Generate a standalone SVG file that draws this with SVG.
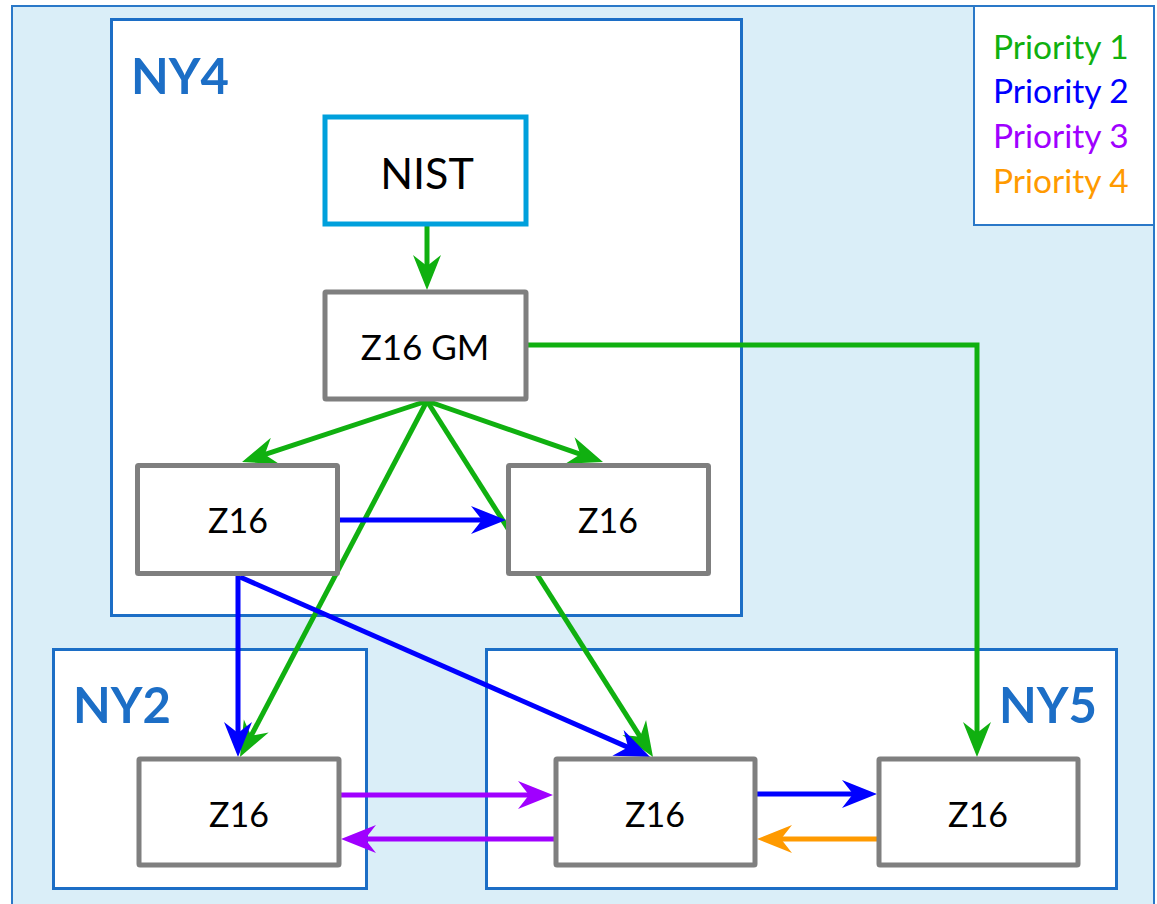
<svg xmlns="http://www.w3.org/2000/svg" width="1157" height="904" viewBox="0 0 1157 904">
<style>
.cont{fill:#ffffff;stroke:#1C6EC6;stroke-width:3}
.box{fill:#ffffff;stroke:#7F7F7F;stroke-width:5}
.nist{fill:#ffffff;stroke:#00A0DC;stroke-width:5}
.lbl{font-family:Lato,"Liberation Sans",sans-serif;font-weight:700;font-size:49px;fill:#1C6EC6}
.t{font-family:Lato,"Liberation Sans",sans-serif;font-size:34px;fill:#000000;text-anchor:middle}
.leg{font-family:Lato,"Liberation Sans",sans-serif;font-size:33.5px}
.c line,.c path{fill:none;stroke-width:5}
.g{stroke:#10B010}
.b{stroke:#0000FF}
.p{stroke:#A000FF}
.o{stroke:#FF9A00}
</style>
<defs>
<marker id="ag" markerUnits="userSpaceOnUse" viewBox="-38 -16 42 32" markerWidth="42" markerHeight="32" refX="-22" refY="0" orient="auto"><path d="M0,0 L-35,-14 L-24,0 L-35,14 Z" fill="#10B010"/></marker>
<marker id="ab" markerUnits="userSpaceOnUse" viewBox="-38 -16 42 32" markerWidth="42" markerHeight="32" refX="-22" refY="0" orient="auto"><path d="M0,0 L-35,-14 L-24,0 L-35,14 Z" fill="#0000FF"/></marker>
<marker id="ap" markerUnits="userSpaceOnUse" viewBox="-38 -16 42 32" markerWidth="42" markerHeight="32" refX="-22" refY="0" orient="auto"><path d="M0,0 L-35,-14 L-24,0 L-35,14 Z" fill="#A000FF"/></marker>
<marker id="ao" markerUnits="userSpaceOnUse" viewBox="-38 -16 42 32" markerWidth="42" markerHeight="32" refX="-22" refY="0" orient="auto"><path d="M0,0 L-35,-14 L-24,0 L-35,14 Z" fill="#FF9A00"/></marker>
</defs>
<rect x="12" y="6" width="1142" height="920" fill="#DAEEF8" stroke="#2A78C8" stroke-width="2"/>

<g id="legend">
<rect x="974" y="6" width="180" height="219" fill="#ffffff" stroke="#2A78C8" stroke-width="2"/>
<text class="leg" x="993" y="59" fill="#10B010">Priority 1</text>
<text class="leg" x="993" y="103" fill="#0000FF">Priority 2</text>
<text class="leg" x="993" y="148" fill="#A000FF">Priority 3</text>
<text class="leg" x="993" y="193" fill="#FF9A00">Priority 4</text>
</g>

<g id="NY4">
<rect class="cont" x="111.5" y="19.5" width="630" height="596"/>
<text class="lbl" x="131" y="94">NY4</text>
</g>
<g id="NY2">
<rect class="cont" x="53.5" y="649.5" width="313" height="239"/>
<text class="lbl" x="73" y="723">NY2</text>
</g>
<g id="NY5">
<rect class="cont" x="486.5" y="649.5" width="630" height="239"/>
<text class="lbl" x="1097" y="723" text-anchor="end">NY5</text>
</g>

<g class="c" id="connectors">
<line class="g" x1="427" y1="226" x2="427" y2="268" marker-end="url(#ag)"/>
<line class="g" x1="427" y1="401" x2="262.9" y2="455.1" marker-end="url(#ag)"/>
<line class="g" x1="427" y1="401" x2="582.2" y2="454.8" marker-end="url(#ag)"/>
<line class="g" x1="427" y1="401" x2="250.2" y2="737.5" marker-end="url(#ag)"/>
<line class="g" x1="427" y1="401" x2="641.2" y2="738.4" marker-end="url(#ag)"/>
<path class="g" d="M528,345 H977 V735" marker-end="url(#ag)"/>
<line class="b" x1="340" y1="520" x2="484" y2="520" marker-end="url(#ab)"/>
<line class="b" x1="238" y1="576" x2="238" y2="735" marker-end="url(#ab)"/>
<line class="b" x1="240" y1="577" x2="629.9" y2="748.1" marker-end="url(#ab)"/>
<line class="p" x1="340" y1="795" x2="531" y2="795" marker-end="url(#ap)"/>
<line class="p" x1="554" y1="839" x2="363" y2="839" marker-end="url(#ap)"/>
<line class="b" x1="756" y1="794" x2="855" y2="794" marker-end="url(#ab)"/>
<line class="o" x1="877" y1="839" x2="779" y2="839" marker-end="url(#ao)"/>
</g>

<g id="nist">
<rect class="nist" x="325" y="117" width="201" height="107"/>
<text class="t" x="427" y="189" style="font-size:43px">NIST</text>
</g>
<g id="z16gm">
<rect class="box" x="325" y="292" width="201" height="107" rx="1"/>
<text class="t" x="425" y="360" style="font-size:35px">Z16 GM</text>
</g>
<g id="ny4_z16_a">
<rect class="box" x="137.5" y="465.5" width="200" height="108" rx="1"/>
<text class="t" x="238" y="533">Z16</text>
</g>
<g id="ny4_z16_b">
<rect class="box" x="508.5" y="465.5" width="200" height="108" rx="1"/>
<text class="t" x="608" y="533">Z16</text>
</g>
<g id="ny2_z16">
<rect class="box" x="139" y="759" width="200" height="106" rx="1"/>
<text class="t" x="239" y="827">Z16</text>
</g>
<g id="ny5_z16_a">
<rect class="box" x="556" y="759" width="199" height="106" rx="1"/>
<text class="t" x="655" y="827">Z16</text>
</g>
<g id="ny5_z16_b">
<rect class="box" x="879" y="759" width="199" height="106" rx="1"/>
<text class="t" x="978" y="827">Z16</text>
</g>
</svg>
